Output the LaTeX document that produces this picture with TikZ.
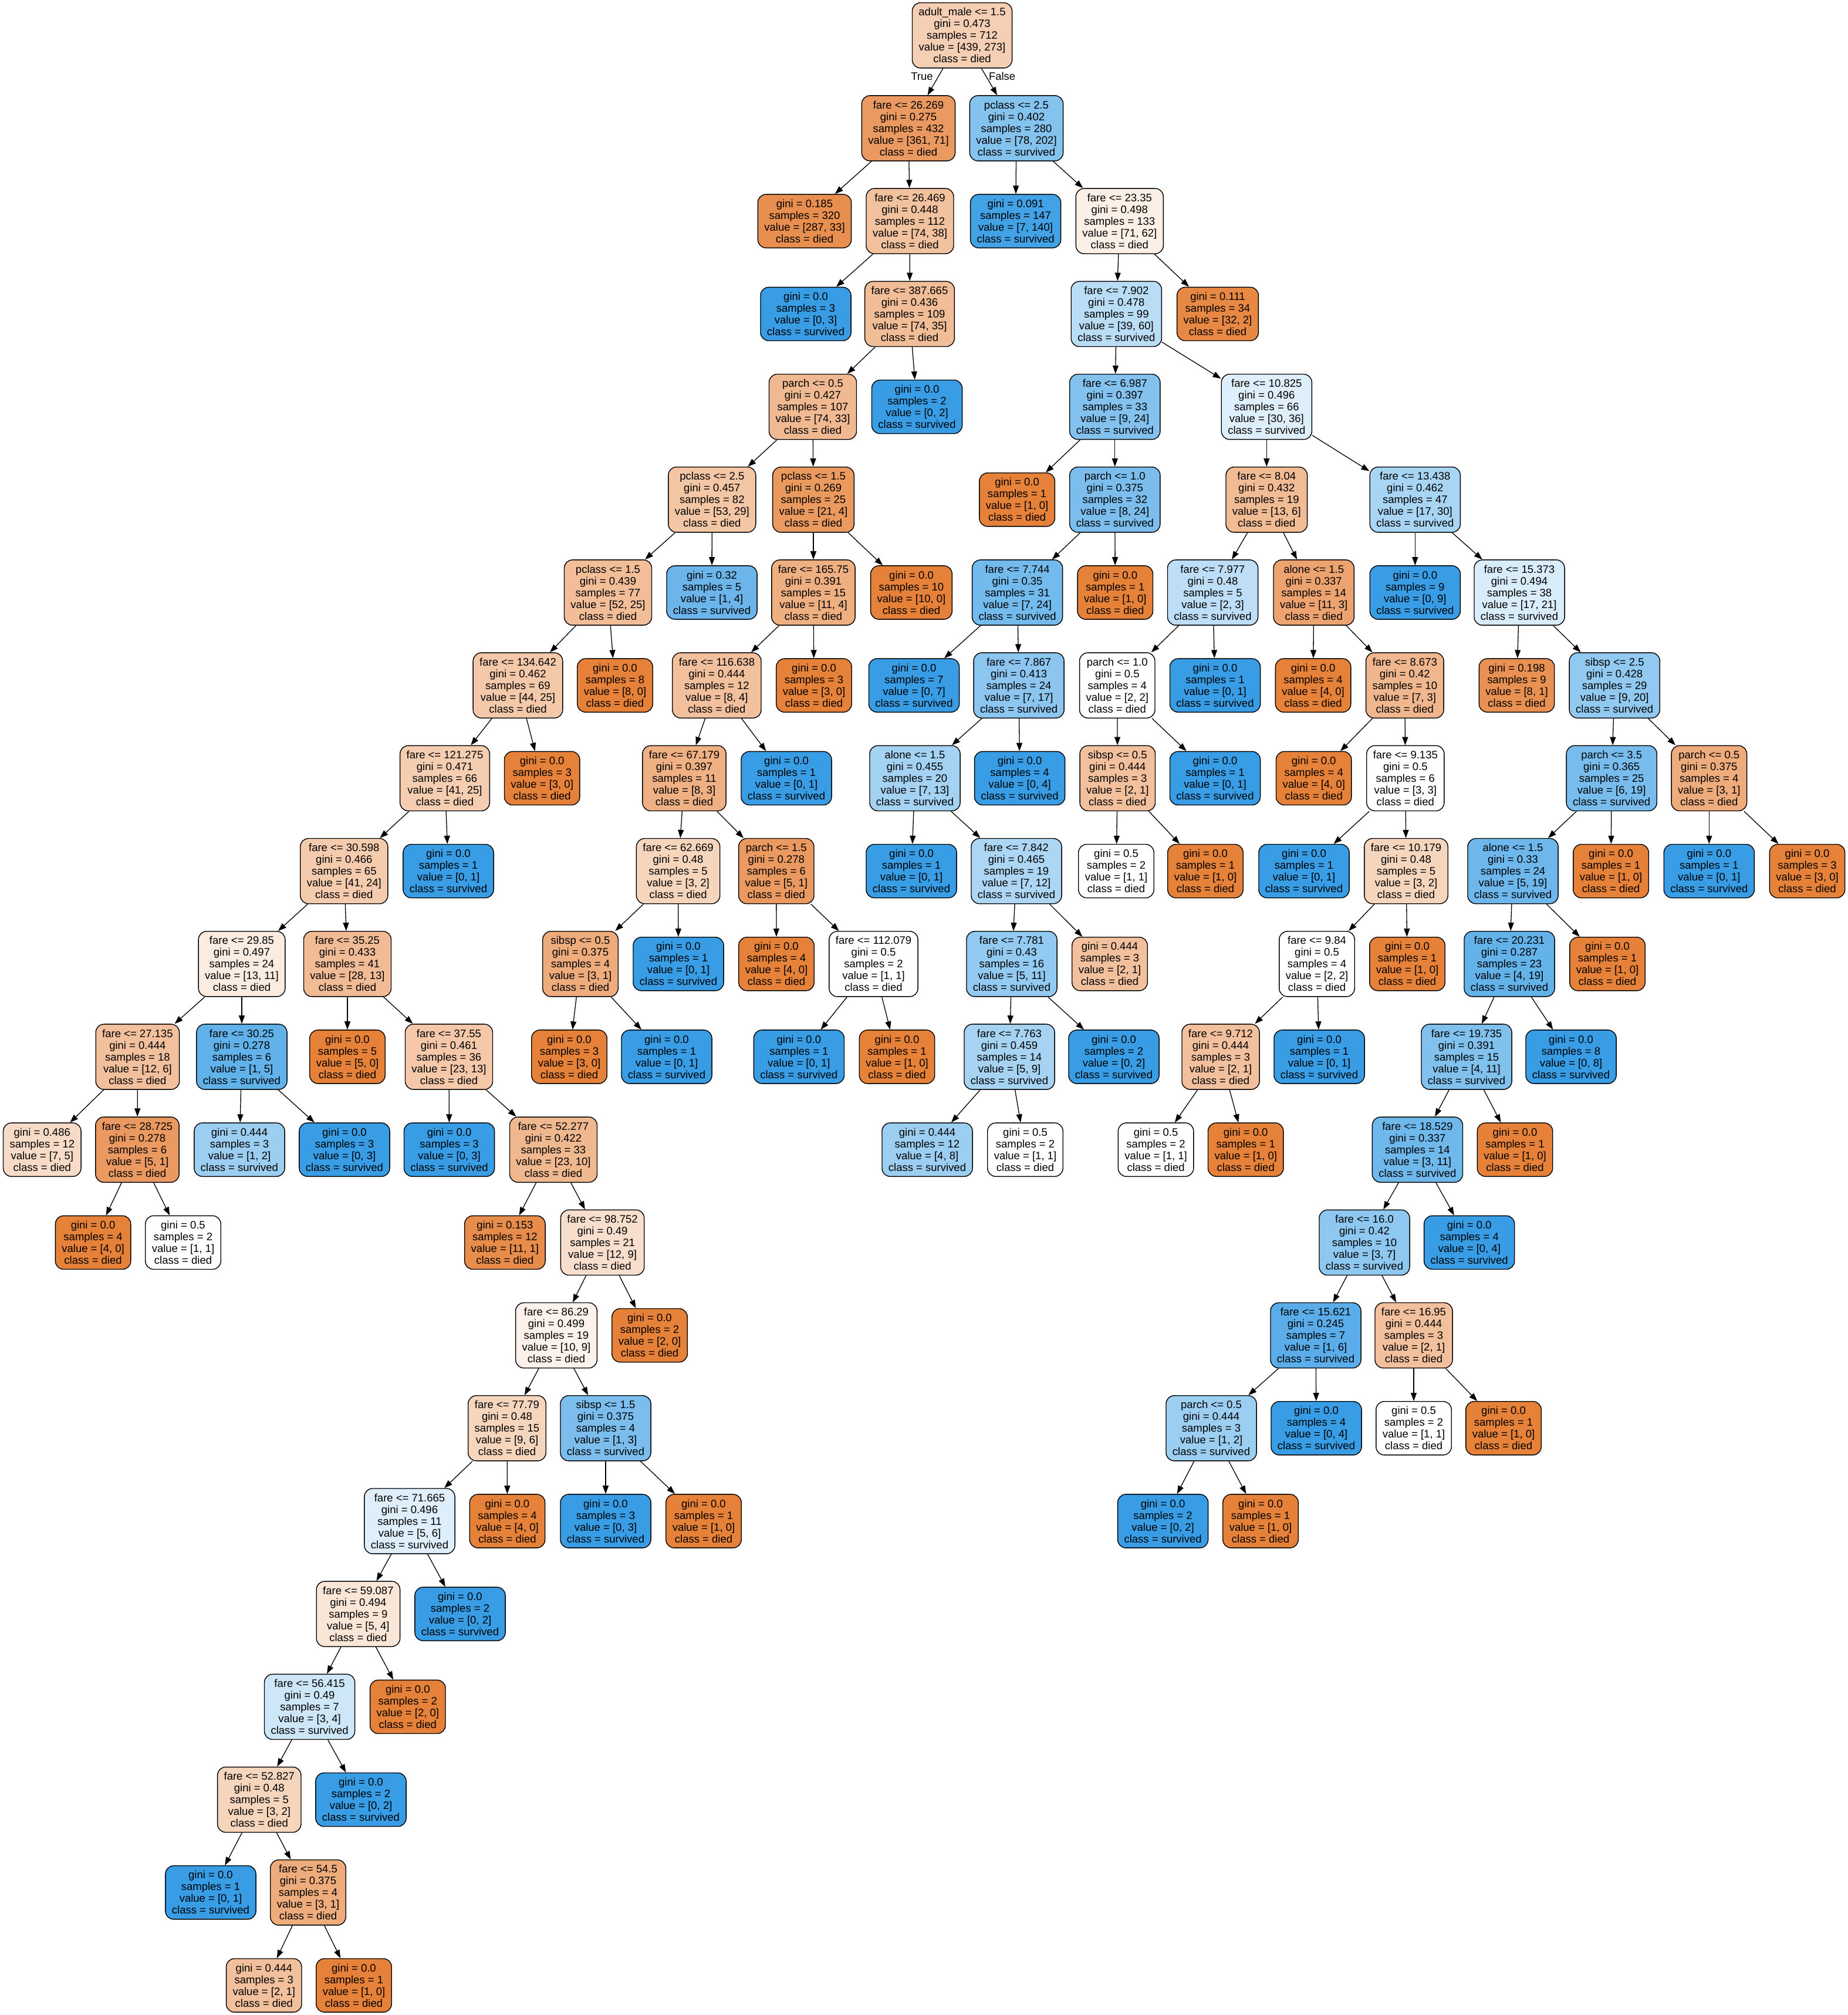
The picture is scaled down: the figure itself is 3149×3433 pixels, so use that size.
\documentclass[tikz,border=0pt]{standalone}
\usepackage{fontspec}
\setmainfont{Liberation Sans}
\usetikzlibrary{arrows.meta}
\definecolor{cd}{RGB}{229,129,57}
\definecolor{cs}{RGB}{57,157,229}
\newcommand\treefont{\fontsize{9.25}{10}\selectfont}
\newcommand\splitn[5]{#1\\gini = #2\\samples = #3\\value = [#4]\\class = #5}
\newcommand\leafn[4]{gini = #1\\samples = #2\\value = [#3]\\class = #4}
\tikzset{
  tn/.style={draw=black, rounded corners=7pt, align=center, inner xsep=5.5pt, inner ysep=4.4pt, line width=0.7pt, font=\treefont},
  D/.style={tn, fill=cd!#1!white},
  S/.style={tn, fill=cs!#1!white},
  W/.style={tn, fill=white},
  edge/.style={draw=black, line width=0.65pt, -{Triangle[length=7pt,width=5pt]}},
  lbl/.style={font=\treefont, inner sep=0pt}
}
\begin{document}
\begin{tikzpicture}[x=0.5pt,y=-0.5pt]
\fill[white] (0,0) rectangle (3149,3433);
\useasboundingbox (0,0) rectangle (3149,3433);
% level 0
\node[D=37.8] (root) at (1639.5,60.3) {\splitn{adult\_male <= 1.5}{0.473}{712}{439, 273}{died}};
% level 1
\node[D=80.3] (A) at (1548,218.5) {\splitn{fare <= 26.269}{0.275}{432}{361, 71}{died}};
\node[S=61.4] (B) at (1732,218.5) {\splitn{pclass <= 2.5}{0.402}{280}{78, 202}{survived}};
% level 2
\node[D=88.5] (A1) at (1371,376.7) {\leafn{0.185}{320}{287, 33}{died}};
\node[D=48.6] (A2) at (1550.5,376.7) {\splitn{fare <= 26.469}{0.448}{112}{74, 38}{died}};
\node[S=95.0] (B1) at (1730.6,376.7) {\leafn{0.091}{147}{7, 140}{survived}};
\node[D=12.7] (B2) at (1907.8,376.7) {\splitn{fare <= 23.35}{0.498}{133}{71, 62}{died}};
% level 3
\node[S=100] (A2a) at (1373,534.9) {\leafn{0.0}{3}{0, 3}{survived}};
\node[D=52.7] (A2b) at (1550,534.9) {\splitn{fare <= 387.665}{0.436}{109}{74, 35}{died}};
\node[S=35] (B2a) at (1902.3,534.9) {\splitn{fare <= 7.902}{0.478}{99}{39, 60}{survived}};
\node[D=93.75] (B2b) at (2075,534.9) {\leafn{0.111}{34}{32, 2}{died}};
% level 4
\node[D=55.4] (A2b1) at (1385,693.1) {\splitn{parch <= 0.5}{0.427}{107}{74, 33}{died}};
\node[S=100] (A2b2) at (1562.5,693.1) {\leafn{0.0}{2}{0, 2}{survived}};
\node[S=62.5] (B2a1) at (1899.8,693.1) {\splitn{fare <= 6.987}{0.397}{33}{9, 24}{survived}};
\node[S=16.7] (B2a2) at (2158.3,693.1) {\splitn{fare <= 10.825}{0.496}{66}{30, 36}{survived}};
% level 5
\node[D=45.3] (P1) at (1213.3,851.3) {\splitn{pclass <= 2.5}{0.457}{82}{53, 29}{died}};
\node[D=81.0] (P2) at (1386,851.3) {\splitn{pclass <= 1.5}{0.269}{25}{21, 4}{died}};
\node[D=100] (B2a1a) at (1733.1,851.3) {\leafn{0.0}{1}{1, 0}{died}};
\node[S=66.7] (B2a1b) at (1899.8,851.3) {\splitn{parch <= 1.0}{0.375}{32}{8, 24}{survived}};
\node[D=53.8] (B2a2a) at (2158.3,851.3) {\splitn{fare <= 8.04}{0.432}{19}{13, 6}{died}};
\node[S=43.3] (B2a2b) at (2411.3,851.3) {\splitn{fare <= 13.438}{0.462}{47}{17, 30}{survived}};
% level 6
\node[D=51.9] (P1a) at (1036,1009.5) {\splitn{pclass <= 1.5}{0.439}{77}{52, 25}{died}};
\node[S=75] (P1b) at (1213,1009.5) {\leafn{0.32}{5}{1, 4}{survived}};
\node[D=63.6] (P2a) at (1386,1009.5) {\splitn{fare <= 165.75}{0.391}{15}{11, 4}{died}};
\node[D=100] (P2b) at (1553,1009.5) {\leafn{0.0}{10}{10, 0}{died}};
\node[S=70.8] (C1) at (1733.6,1009.5) {\splitn{fare <= 7.744}{0.35}{31}{7, 24}{survived}};
\node[D=100] (C2) at (1900.3,1009.5) {\leafn{0.0}{1}{1, 0}{died}};
\node[S=33.3] (D1) at (2066.5,1009.5) {\splitn{fare <= 7.977}{0.48}{5}{2, 3}{survived}};
\node[D=72.7] (D2) at (2238.7,1009.5) {\splitn{alone <= 1.5}{0.337}{14}{11, 3}{died}};
\node[S=100] (E1) at (2411.3,1009.5) {\leafn{0.0}{9}{0, 9}{survived}};
\node[S=19.0] (E2) at (2589,1009.5) {\splitn{fare <= 15.373}{0.494}{38}{17, 21}{survived}};
% level 7
\node[D=43.2] (P1a1) at (882.5,1167.7) {\splitn{fare <= 134.642}{0.462}{69}{44, 25}{died}};
\node[D=100] (P1a2) at (1048,1167.7) {\leafn{0.0}{8}{8, 0}{died}};
\node[D=50] (P2a1) at (1221.4,1167.7) {\splitn{fare <= 116.638}{0.444}{12}{8, 4}{died}};
\node[D=100] (P2a2) at (1387,1167.7) {\leafn{0.0}{3}{3, 0}{died}};
\node[S=100] (C1a) at (1557.5,1167.7) {\leafn{0.0}{7}{0, 7}{survived}};
\node[S=58.8] (C1b) at (1736.1,1167.7) {\splitn{fare <= 7.867}{0.413}{24}{7, 17}{survived}};
\node[W] (D1a) at (1903.8,1167.7) {\splitn{parch <= 1.0}{0.5}{4}{2, 2}{died}};
\node[S=100] (D1b) at (2070.5,1167.7) {\leafn{0.0}{1}{0, 1}{survived}};
\node[D=100] (D2a) at (2237.6,1167.7) {\leafn{0.0}{4}{4, 0}{died}};
\node[D=57.1] (D2b) at (2393.8,1167.7) {\splitn{fare <= 8.673}{0.42}{10}{7, 3}{died}};
\node[D=87.5] (E2a) at (2584.5,1167.7) {\leafn{0.198}{9}{8, 1}{died}};
\node[S=55] (E2b) at (2751.2,1167.7) {\splitn{sibsp <= 2.5}{0.428}{29}{9, 20}{survived}};
% level 8
\node[D=39.0] (Q1) at (758,1325.9) {\splitn{fare <= 121.275}{0.471}{66}{41, 25}{died}};
\node[D=100] (Q2) at (923.7,1325.9) {\leafn{0.0}{3}{3, 0}{died}};
\node[D=62.5] (R1) at (1166,1325.9) {\splitn{fare <= 67.179}{0.397}{11}{8, 3}{died}};
\node[S=100] (R2) at (1340,1325.9) {\leafn{0.0}{1}{0, 1}{survived}};
\node[S=46.2] (S1) at (1559,1325.9) {\splitn{alone <= 1.5}{0.455}{20}{7, 13}{survived}};
\node[S=100] (S2) at (1737.6,1325.9) {\leafn{0.0}{4}{0, 4}{survived}};
\node[D=50] (T1) at (1904.3,1325.9) {\splitn{sibsp <= 0.5}{0.444}{3}{2, 1}{died}};
\node[S=100] (T2) at (2070.5,1325.9) {\leafn{0.0}{1}{0, 1}{survived}};
\node[D=100] (U1) at (2238.7,1325.9) {\leafn{0.0}{4}{4, 0}{died}};
\node[W] (U2) at (2394.8,1325.9) {\splitn{fare <= 9.135}{0.5}{6}{3, 3}{died}};
\node[S=68.4] (V1) at (2746.2,1325.9) {\splitn{parch <= 3.5}{0.365}{25}{6, 19}{survived}};
\node[D=66.7] (V2) at (2912.3,1325.9) {\splitn{parch <= 0.5}{0.375}{4}{3, 1}{died}};
% level 9
\node[D=41.5] (Q1a) at (586.3,1484.1) {\splitn{fare <= 30.598}{0.466}{65}{41, 24}{died}};
\node[S=100] (Q1b) at (764,1484.1) {\leafn{0.0}{1}{0, 1}{survived}};
\node[D=33.3] (R1a) at (1155.6,1484.1) {\splitn{fare <= 62.669}{0.48}{5}{3, 2}{died}};
\node[D=80] (R1b) at (1322.8,1484.1) {\splitn{parch <= 1.5}{0.278}{6}{5, 1}{died}};
\node[S=100] (S1a) at (1553,1484.1) {\leafn{0.0}{1}{0, 1}{survived}};
\node[S=41.7] (S1b) at (1732,1484.1) {\splitn{fare <= 7.842}{0.465}{19}{7, 12}{survived}};
\node[W] (T1a) at (1902,1484.1) {\leafn{0.5}{2}{1, 1}{died}};
\node[D=100] (T1b) at (2054,1484.1) {\leafn{0.0}{1}{1, 0}{died}};
\node[S=100] (U2a) at (2222,1484.1) {\leafn{0.0}{1}{0, 1}{survived}};
\node[D=33.3] (U2b) at (2396,1484.1) {\splitn{fare <= 10.179}{0.48}{5}{3, 2}{died}};
\node[S=73.7] (V1a) at (2578,1484.1) {\splitn{alone <= 1.5}{0.33}{24}{5, 19}{survived}};
\node[D=100] (V1b) at (2745,1484.1) {\leafn{0.0}{1}{1, 0}{died}};
\node[S=100] (V2a) at (2912.3,1484.1) {\leafn{0.0}{1}{0, 1}{survived}};
\node[D=100] (V2b) at (3079.5,1484.1) {\leafn{0.0}{3}{3, 0}{died}};
% level 10
\node[D=15.4] (W1) at (412,1642.3) {\splitn{fare <= 29.85}{0.497}{24}{13, 11}{died}};
\node[D=53.6] (W2) at (592,1642.3) {\splitn{fare <= 35.25}{0.433}{41}{28, 13}{died}};
\node[D=66.7] (R1a1) at (989,1642.3) {\splitn{sibsp <= 0.5}{0.375}{4}{3, 1}{died}};
\node[S=100] (R1a2) at (1156,1642.3) {\leafn{0.0}{1}{0, 1}{survived}};
\node[D=100] (R1b1) at (1323,1642.3) {\leafn{0.0}{4}{4, 0}{died}};
\node[W] (R1b2) at (1488.5,1642.3) {\splitn{fare <= 112.079}{0.5}{2}{1, 1}{died}};
\node[S=54.5] (S1b1) at (1724,1642.3) {\splitn{fare <= 7.781}{0.43}{16}{5, 11}{survived}};
\node[D=50] (S1b2) at (1891,1642.3) {\leafn{0.444}{3}{2, 1}{died}};
\node[W] (U2b1) at (2244,1642.3) {\splitn{fare <= 9.84}{0.5}{4}{2, 2}{died}};
\node[D=100] (U2b2) at (2398,1642.3) {\leafn{0.0}{1}{1, 0}{died}};
\node[S=78.9] (V1a1) at (2572,1642.3) {\splitn{fare <= 20.231}{0.287}{23}{4, 19}{survived}};
\node[D=100] (V1a2) at (2739,1642.3) {\leafn{0.0}{1}{1, 0}{died}};
% level 11
\node[D=50] (W1a) at (234.4,1800.5) {\splitn{fare <= 27.135}{0.444}{18}{12, 6}{died}};
\node[S=80] (W1b) at (412,1800.5) {\splitn{fare <= 30.25}{0.278}{6}{1, 5}{survived}};
\node[D=100] (W2a) at (592,1800.5) {\leafn{0.0}{5}{5, 0}{died}};
\node[D=43.5] (W2b) at (765,1800.5) {\splitn{fare <= 37.55}{0.461}{36}{23, 13}{died}};
\node[D=100] (R1a1a) at (970,1800.5) {\leafn{0.0}{3}{3, 0}{died}};
\node[S=100] (R1a1b) at (1136,1800.5) {\leafn{0.0}{1}{0, 1}{survived}};
\node[S=100] (R1b2a) at (1361.4,1800.5) {\leafn{0.0}{1}{0, 1}{survived}};
\node[D=100] (R1b2b) at (1528.5,1800.5) {\leafn{0.0}{1}{1, 0}{died}};
\node[S=44.4] (S1b1a) at (1720,1800.5) {\splitn{fare <= 7.763}{0.459}{14}{5, 9}{survived}};
\node[S=100] (S1b1b) at (1898,1800.5) {\leafn{0.0}{2}{0, 2}{survived}};
\node[D=50] (U2b1a) at (2080,1800.5) {\splitn{fare <= 9.712}{0.444}{3}{2, 1}{died}};
\node[S=100] (U2b1b) at (2248,1800.5) {\leafn{0.0}{1}{0, 1}{survived}};
\node[S=63.6] (V1a1a) at (2499,1800.5) {\splitn{fare <= 19.735}{0.391}{15}{4, 11}{survived}};
\node[S=100] (V1a1b) at (2677,1800.5) {\leafn{0.0}{8}{0, 8}{survived}};
% level 12
\node[D=28.6] (W1a1) at (71.8,1958.7) {\leafn{0.486}{12}{7, 5}{died}};
\node[D=80] (W1a2) at (234,1958.7) {\splitn{fare <= 28.725}{0.278}{6}{5, 1}{died}};
\node[S=50] (W1b1) at (408,1958.7) {\leafn{0.444}{3}{1, 2}{survived}};
\node[S=100] (W1b2) at (587,1958.7) {\leafn{0.0}{3}{0, 3}{survived}};
\node[S=100] (W2b1) at (765.6,1958.7) {\leafn{0.0}{3}{0, 3}{survived}};
\node[D=56.5] (W2b2) at (943,1958.7) {\splitn{fare <= 52.277}{0.422}{33}{23, 10}{died}};
\node[S=50] (S1b1a1) at (1580,1958.7) {\leafn{0.444}{12}{4, 8}{survived}};
\node[W] (S1b1a2) at (1747,1958.7) {\leafn{0.5}{2}{1, 1}{died}};
\node[W] (U2b1a1) at (1969.6,1958.7) {\leafn{0.5}{2}{1, 1}{died}};
\node[D=100] (U2b1a2) at (2122.7,1958.7) {\leafn{0.0}{1}{1, 0}{died}};
\node[S=72.7] (V1a1a1) at (2415.4,1958.7) {\splitn{fare <= 18.529}{0.337}{14}{3, 11}{survived}};
\node[D=100] (V1a1a2) at (2581.5,1958.7) {\leafn{0.0}{1}{1, 0}{died}};
% level 13
\node[D=100] (W1a2a) at (158.6,2116.9) {\leafn{0.0}{4}{4, 0}{died}};
\node[W] (W1a2b) at (312,2116.9) {\leafn{0.5}{2}{1, 1}{died}};
\node[D=90.9] (X1) at (860.4,2116.9) {\leafn{0.153}{12}{11, 1}{died}};
\node[D=25] (X2) at (1026.6,2116.9) {\splitn{fare <= 98.752}{0.49}{21}{12, 9}{died}};
\node[S=57.1] (Y1) at (2325,2116.9) {\splitn{fare <= 16.0}{0.42}{10}{3, 7}{survived}};
\node[S=100] (Y2) at (2503.7,2116.9) {\leafn{0.0}{4}{0, 4}{survived}};
% level 14
\node[D=10] (X2a) at (948,2275.1) {\splitn{fare <= 86.29}{0.499}{19}{10, 9}{died}};
\node[D=100] (X2b) at (1107,2275.1) {\leafn{0.0}{2}{2, 0}{died}};
\node[S=83.3] (Y1a) at (2242,2275.1) {\splitn{fare <= 15.621}{0.245}{7}{1, 6}{survived}};
\node[D=50] (Y1b) at (2409,2275.1) {\splitn{fare <= 16.95}{0.444}{3}{2, 1}{died}};
% level 15
\node[D=33.3] (X2a1) at (864,2433.3) {\splitn{fare <= 77.79}{0.48}{15}{9, 6}{died}};
\node[S=66.7] (X2a2) at (1032,2433.3) {\splitn{sibsp <= 1.5}{0.375}{4}{1, 3}{survived}};
\node[S=50] (Y1a1) at (2064,2433.3) {\splitn{parch <= 0.5}{0.444}{3}{1, 2}{survived}};
\node[S=100] (Y1a2) at (2243,2433.3) {\leafn{0.0}{4}{0, 4}{survived}};
\node[W] (Y1b1) at (2409,2433.3) {\leafn{0.5}{2}{1, 1}{died}};
\node[D=100] (Y1b2) at (2562,2433.3) {\leafn{0.0}{1}{1, 0}{died}};
% level 16
\node[S=16.7] (Z1) at (698,2591.5) {\splitn{fare <= 71.665}{0.496}{11}{5, 6}{survived}};
\node[D=100] (Z2) at (864.5,2591.5) {\leafn{0.0}{4}{4, 0}{died}};
\node[S=100] (X2a2a) at (1032,2591.5) {\leafn{0.0}{3}{0, 3}{survived}};
\node[D=100] (X2a2b) at (1199,2591.5) {\leafn{0.0}{1}{1, 0}{died}};
\node[S=100] (Y1a1a) at (1981.6,2591.5) {\leafn{0.0}{2}{0, 2}{survived}};
\node[D=100] (Y1a1b) at (2148,2591.5) {\leafn{0.0}{1}{1, 0}{died}};
% level 17
\node[D=20] (Z1a) at (610.4,2749.7) {\splitn{fare <= 59.087}{0.494}{9}{5, 4}{died}};
\node[S=100] (Z1b) at (784,2749.7) {\leafn{0.0}{2}{0, 2}{survived}};
% level 18
\node[S=25] (Z1a1) at (527.6,2907.9) {\splitn{fare <= 56.415}{0.49}{7}{3, 4}{survived}};
\node[D=100] (Z1a2) at (694.8,2907.9) {\leafn{0.0}{2}{2, 0}{died}};
% level 19
\node[D=33.3] (Z1a1a) at (441.8,3066.1) {\splitn{fare <= 52.827}{0.48}{5}{3, 2}{died}};
\node[S=100] (Z1a1b) at (615,3066.1) {\leafn{0.0}{2}{0, 2}{survived}};
% level 20
\node[S=100] (Z1a1a1) at (359,3224.3) {\leafn{0.0}{1}{0, 1}{survived}};
\node[D=66.7] (Z1a1a2) at (525,3224.3) {\splitn{fare <= 54.5}{0.375}{4}{3, 1}{died}};
% level 21
\node[D=50] (Z1a1a2a) at (449.8,3382.5) {\leafn{0.444}{3}{2, 1}{died}};
\node[D=100] (Z1a1a2b) at (603,3382.5) {\leafn{0.0}{1}{1, 0}{died}};
% edge labels
\node[lbl] (tlab) at (1571,130) {True};
\node[lbl] (flab) at (1707.6,130) {False};
% edges
\foreach \p/\c in {root/A, root/B, A/A1, A/A2, B/B1, B/B2, A2/A2a, A2/A2b, B2/B2a, B2/B2b,
  A2b/A2b1, A2b/A2b2, B2a/B2a1, B2a/B2a2, A2b1/P1, A2b1/P2, B2a1/B2a1a, B2a1/B2a1b,
  B2a2/B2a2a, B2a2/B2a2b, P1/P1a, P1/P1b, P2/P2a, P2/P2b, B2a1b/C1, B2a1b/C2,
  B2a2a/D1, B2a2a/D2, B2a2b/E1, B2a2b/E2, P1a/P1a1, P1a/P1a2, P2a/P2a1, P2a/P2a2,
  C1/C1a, C1/C1b, D1/D1a, D1/D1b, D2/D2a, D2/D2b, E2/E2a, E2/E2b,
  P1a1/Q1, P1a1/Q2, P2a1/R1, P2a1/R2, C1b/S1, C1b/S2, D1a/T1, D1a/T2, D2b/U1, D2b/U2,
  E2b/V1, E2b/V2, Q1/Q1a, Q1/Q1b, R1/R1a, R1/R1b, S1/S1a, S1/S1b, T1/T1a, T1/T1b,
  U2/U2a, U2/U2b, V1/V1a, V1/V1b, V2/V2a, V2/V2b, Q1a/W1, Q1a/W2, R1a/R1a1, R1a/R1a2,
  R1b/R1b1, R1b/R1b2, S1b/S1b1, S1b/S1b2, U2b/U2b1, U2b/U2b2, V1a/V1a1, V1a/V1a2,
  W1/W1a, W1/W1b, W2/W2a, W2/W2b, R1a1/R1a1a, R1a1/R1a1b, R1b2/R1b2a, R1b2/R1b2b,
  S1b1/S1b1a, S1b1/S1b1b, U2b1/U2b1a, U2b1/U2b1b, V1a1/V1a1a, V1a1/V1a1b,
  W1a/W1a1, W1a/W1a2, W1b/W1b1, W1b/W1b2, W2b/W2b1, W2b/W2b2, S1b1a/S1b1a1, S1b1a/S1b1a2,
  U2b1a/U2b1a1, U2b1a/U2b1a2, V1a1a/V1a1a1, V1a1a/V1a1a2, W1a2/W1a2a, W1a2/W1a2b,
  W2b2/X1, W2b2/X2, V1a1a1/Y1, V1a1a1/Y2, X2/X2a, X2/X2b, Y1/Y1a, Y1/Y1b,
  X2a/X2a1, X2a/X2a2, Y1a/Y1a1, Y1a/Y1a2, Y1b/Y1b1, Y1b/Y1b2, X2a1/Z1, X2a1/Z2,
  X2a2/X2a2a, X2a2/X2a2b, Y1a1/Y1a1a, Y1a1/Y1a1b, Z1/Z1a, Z1/Z1b, Z1a/Z1a1, Z1a/Z1a2,
  Z1a1/Z1a1a, Z1a1/Z1a1b, Z1a1a/Z1a1a1, Z1a1a/Z1a1a2, Z1a1a2/Z1a1a2a, Z1a1a2/Z1a1a2b}
  \draw[edge] (\p) -- (\c);
\end{tikzpicture}
\end{document}
